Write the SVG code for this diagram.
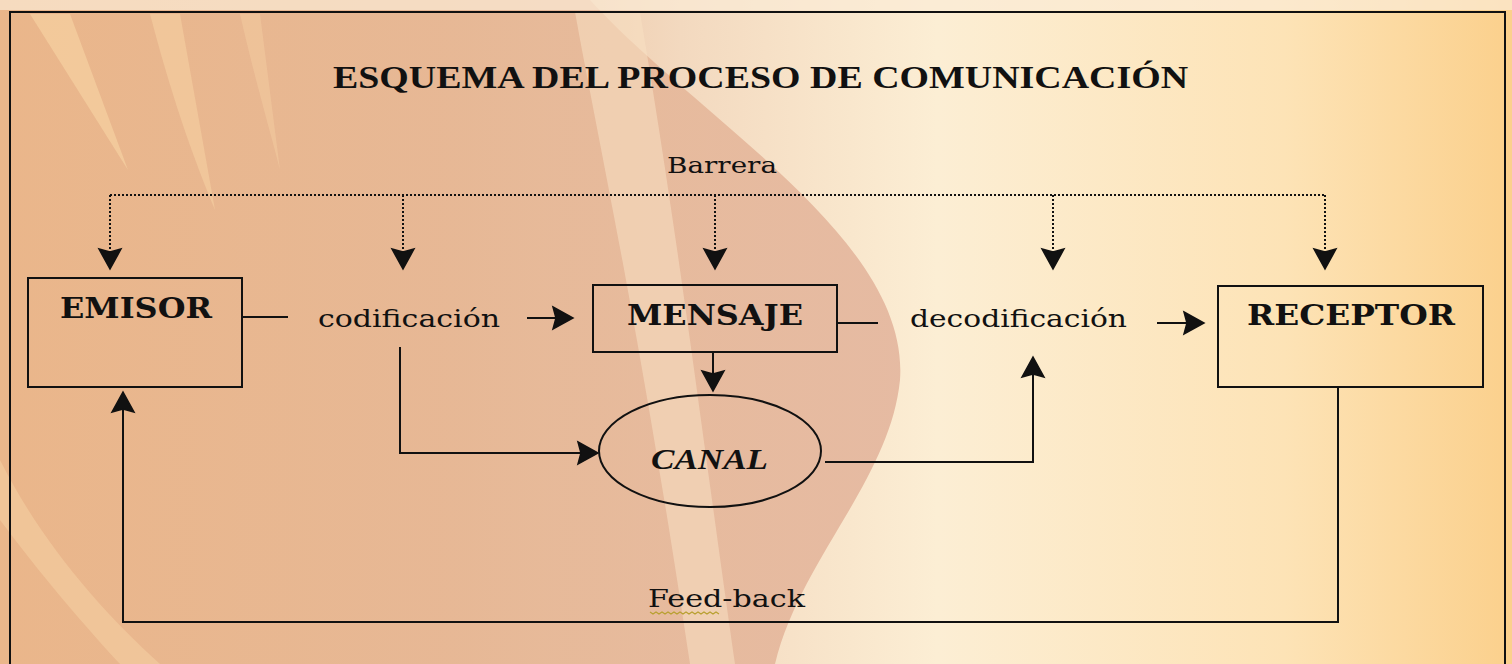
<svg xmlns="http://www.w3.org/2000/svg" width="1512" height="664" viewBox="0 0 1512 664">
<style>
.box{fill:none;stroke:#111;stroke-width:2}
.ln{fill:none;stroke:#111;stroke-width:2}
.dot{fill:none;stroke:#111;stroke-width:2;stroke-dasharray:2 2}
.t{font-family:"DejaVu Serif","Liberation Serif",serif;fill:#111}
.ti{font-family:"Liberation Serif","Times New Roman",serif;fill:#111;font-weight:bold}
.b{font-weight:bold}
</style>
<defs>
<linearGradient id="bg" x1="0" y1="0" x2="1" y2="0">
<stop offset="0" stop-color="#EAB68C"/>
<stop offset="0.3" stop-color="#E8BE9C"/>
<stop offset="0.45" stop-color="#F3D9BF"/>
<stop offset="0.62" stop-color="#FCEED4"/>
<stop offset="0.85" stop-color="#FDE3B6"/>
<stop offset="1" stop-color="#FBD08C"/>
</linearGradient>
<linearGradient id="sw" x1="0" y1="0" x2="1" y2="0">
<stop offset="0" stop-color="#EAB68A"/>
<stop offset="0.6" stop-color="#E6B796"/>
<stop offset="1" stop-color="#E2B29A"/>
</linearGradient>
<marker id="ah" viewBox="-1 -1 22 24" refX="19" refY="11" markerWidth="22" markerHeight="24" markerUnits="userSpaceOnUse" orient="auto" overflow="visible">
<path d="M0,0 L20,11 L0,22 L3,11 Z" fill="#111" stroke="#111" stroke-width="1.5" stroke-linejoin="miter"/>
</marker>
</defs>
<g id="background">
<rect x="0" y="0" width="1512" height="664" fill="url(#bg)"/>
<path d="M0 0 L590 0 C700 120 910 240 900 380 C890 480 800 560 775 664 L0 664 Z" fill="url(#sw)" opacity="0.85"/>
<path d="M575 12 C600 150 640 330 690 664 L735 664 C700 420 680 250 640 12 Z" fill="#F8E0C2" opacity="0.55"/>
<path d="M30 14 L128 170 L70 14 Z" fill="#FAD9A8" opacity="0.55"/>
<path d="M150 14 C170 90 190 150 215 210 L180 14 Z" fill="#FAD9A8" opacity="0.45"/>
<path d="M240 14 C255 80 270 130 280 170 L260 14 Z" fill="#F8D6A8" opacity="0.35"/>
<path d="M0 460 C40 540 100 610 160 664 L120 664 C70 610 30 560 0 520 Z" fill="#F8D6A8" opacity="0.45"/>
<rect x="0" y="0" width="1512" height="10" fill="#FBEBD6" opacity="0.7"/>
<rect x="10" y="12" width="1495" height="680" fill="none" stroke="#111" stroke-width="2"/>
</g>
<g id="title">
<text class="ti" x="333" y="88" font-size="32" textLength="855" lengthAdjust="spacingAndGlyphs">ESQUEMA DEL PROCESO DE COMUNICACIÓN</text>
</g>
<g id="barrera">
<text class="t" x="667" y="173" font-size="23" textLength="110" lengthAdjust="spacingAndGlyphs">Barrera</text>
</g>
<g id="emisor">
<rect class="box" x="28" y="278" width="214" height="109"/>
<text class="t b" x="60" y="318" font-size="28" textLength="152" lengthAdjust="spacingAndGlyphs">EMISOR</text>
</g>
<g id="codificacion">
<text class="t" x="318" y="327" font-size="25" textLength="182" lengthAdjust="spacingAndGlyphs">codificación</text>
</g>
<g id="mensaje">
<rect class="box" x="593" y="285" width="244" height="67"/>
<text class="t b" x="627" y="325" font-size="28" textLength="176" lengthAdjust="spacingAndGlyphs">MENSAJE</text>
</g>
<g id="decodificacion">
<text class="t" x="910" y="327" font-size="25" textLength="217" lengthAdjust="spacingAndGlyphs">decodificación</text>
</g>
<g id="receptor">
<rect class="box" x="1218" y="286" width="265" height="101"/>
<text class="t b" x="1247" y="325" font-size="28" textLength="208" lengthAdjust="spacingAndGlyphs">RECEPTOR</text>
</g>
<g id="canal">
<ellipse class="box" cx="710" cy="451" rx="111" ry="56"/>
<text class="ti" font-style="italic" x="651" y="469" font-size="30" textLength="117" lengthAdjust="spacingAndGlyphs">CANAL</text>
</g>
<g id="feedback">
<text class="t" x="648" y="607" font-size="25" textLength="157" lengthAdjust="spacingAndGlyphs">Feed-back</text>
<path d="M650 612 l3 2 l3 -2 l3 2 l3 -2 l3 2 l3 -2 l3 2 l3 -2 l3 2 l3 -2 l3 2 l3 -2 l3 2 l3 -2 l3 2 l3 -2 l3 2 l3 -2 l3 2 l3 -2 l3 2 l3 -2 l3 2" fill="none" stroke="#B8A030" stroke-width="1.2"/>
</g>
<g id="connectors">
<path class="dot" d="M110 195 H1325"/>
<path class="dot" d="M110 195 V268" marker-end="url(#ah)"/>
<path class="dot" d="M403 195 V268" marker-end="url(#ah)"/>
<path class="dot" d="M715 195 V268" marker-end="url(#ah)"/>
<path class="dot" d="M1053 195 V268" marker-end="url(#ah)"/>
<path class="dot" d="M1325 195 V268" marker-end="url(#ah)"/>
<path class="ln" d="M242 317 H288"/>
<path class="ln" d="M527 318 H572" marker-end="url(#ah)"/>
<path class="ln" d="M837 323 H878"/>
<path class="ln" d="M1157 323 H1203" marker-end="url(#ah)"/>
<path class="ln" d="M713 352 V390" marker-end="url(#ah)"/>
<path class="ln" d="M400 347 V453 H597" marker-end="url(#ah)"/>
<path class="ln" d="M825 462 H1033 V358" marker-end="url(#ah)"/>
<path class="ln" d="M1338 387 V622 H123 V393" marker-end="url(#ah)"/>
</g>
</svg>
